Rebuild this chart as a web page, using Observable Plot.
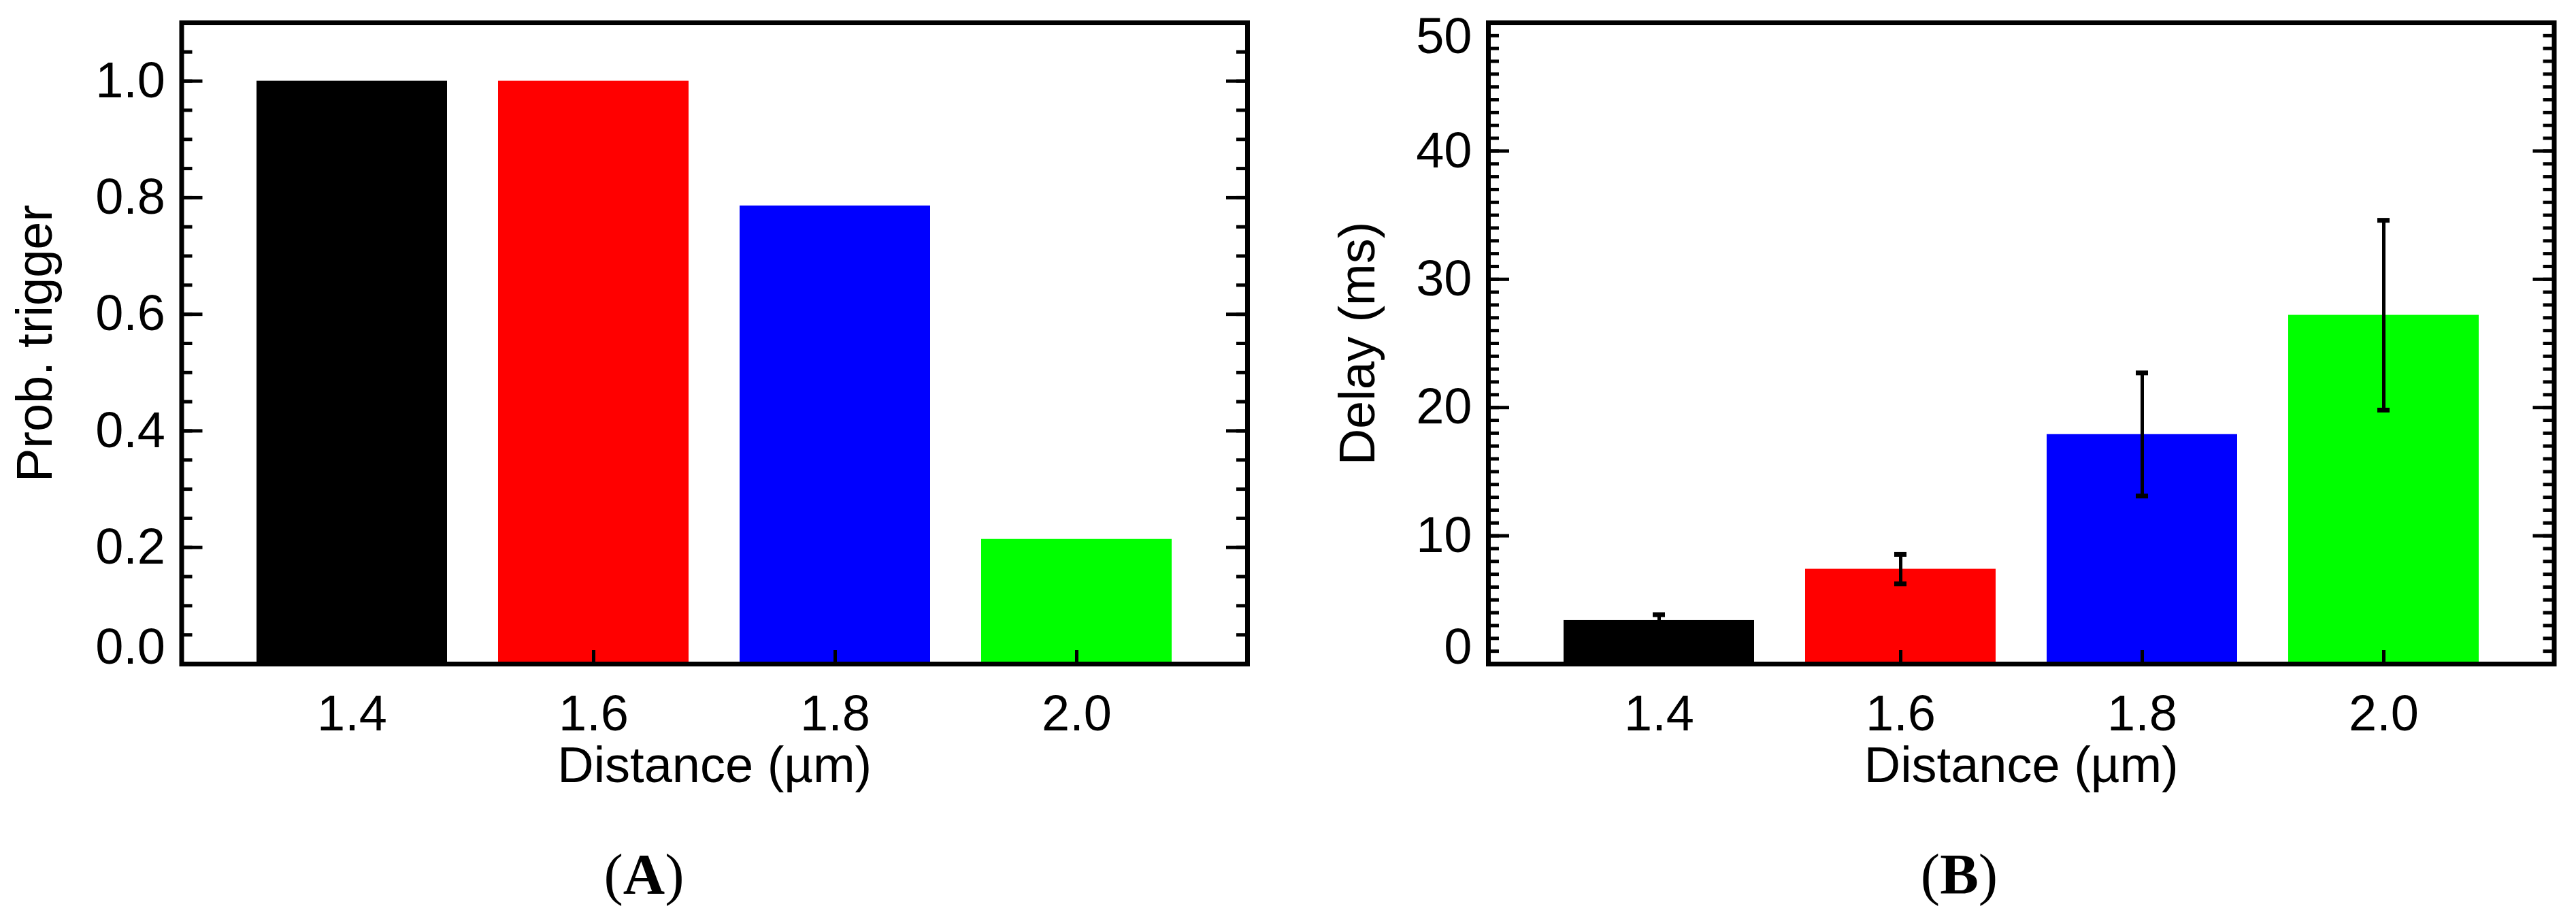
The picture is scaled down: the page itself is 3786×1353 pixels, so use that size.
<!DOCTYPE html>
<html><head><meta charset="utf-8">
<script src="https://cdn.jsdelivr.net/npm/d3@7"></script>
<script src="https://cdn.jsdelivr.net/npm/@observablehq/plot@0.6"></script>
<style>
body{margin:0;background:#fff;}
#page{display:flex;width:3786px;height:1353px;background:#fff;}
.panel{width:1893px;flex:none;}
.caption{font-family:"Liberation Serif","Times New Roman",serif;font-size:85px;line-height:85px;text-align:center;color:#000;box-sizing:border-box;width:1893px;}
</style></head><body>
<div id="page"><div class="panel" id="pa"></div><div class="panel" id="pb"></div></div>
<script>
// ---- data ----
const distances = ["1.4", "1.6", "1.8", "2.0"];
const barColors = ["#000000", "#ff0000", "#0000ff", "#00ff00"];
const probTrigger = [1.0, 1.0, 0.786, 0.214];
const delayMs = [3.4, 7.4, 17.9, 27.2];
const delayErr = [0.45, 1.15, 4.8, 7.4];
const probTicks = [0, 0.2, 0.4, 0.6, 0.8, 1.0];
const delayTicks = [0, 10, 20, 30, 40, 50];
const xLabel = "Distance (µm)";

function panel({values, errs, domain, ticks, minorStep, fmt, ylabel, marginLeft, marginRight, ylabelDx, caption, captionShift}) {
  const W = 1893, H = 1242, MT = 33, MB = 267;
  const plotW = W - marginLeft - marginRight;
  const plotH = H - MT - MB;
  const data = distances.map((d, i) => ({d, v: values[i], c: barColors[i], e: errs ? errs[i] : null}));
  const minors = d3.range(0, Math.round((domain[1] - domain[0]) / minorStep) + 1).map(k => domain[0] + k * minorStep);
  const inner = ticks.filter(t => t !== domain[0] && t !== domain[1]);
  const lowT = ticks.filter(t => t === domain[0]);
  const highT = ticks.filter(t => t === domain[1]);
  const font = {fontSize: 74, tickSize: 0, tickPadding: 24, tickFormat: fmt, label: null};
  const marks = [
    Plot.barY(data, {x: "d", y: "v", fill: "c"}),
  ];
  if (errs) {
    marks.push(
      Plot.ruleX(data, {x: "d", y1: r => r.v - r.e, y2: r => r.v + r.e, stroke: "black", strokeWidth: 5}),
      Plot.tickY(data, {x: "d", y: r => r.v + r.e, insetLeft: 131, insetRight: 131, stroke: "black", strokeWidth: 7}),
      Plot.tickY(data, {x: "d", y: r => r.v - r.e, insetLeft: 131, insetRight: 131, stroke: "black", strokeWidth: 7})
    );
  }
  marks.push(
    // minor / major ticks left and right (inward)
    Plot.tickY(minors, {y: t => t, insetRight: plotW - 16, stroke: "black", strokeWidth: 5}),
    Plot.tickY(minors, {y: t => t, insetLeft: plotW - 16, stroke: "black", strokeWidth: 5}),
    Plot.tickY(ticks, {y: t => t, insetRight: plotW - 31, stroke: "black", strokeWidth: 5}),
    Plot.tickY(ticks, {y: t => t, insetLeft: plotW - 31, stroke: "black", strokeWidth: 5}),
    // x ticks (inward, from bottom)
    Plot.tickX(distances, {x: d => d, insetTop: plotH - 20, stroke: "black", strokeWidth: 5}),
    Plot.axisY(inner, {...font}),
    Plot.axisY(lowT, {...font, dy: -24}),
    Plot.axisY(highT, {...font, dy: 21}),
    Plot.axisX({fontSize: 74, tickSize: 0, tickPadding: 45, label: null}),
    Plot.text([ylabel], {text: d => d, frameAnchor: "left", textAnchor: "middle", lineAnchor: "middle", rotate: -90, dx: ylabelDx, fontSize: 74}),
    Plot.text([xLabel], {text: d => d, frameAnchor: "bottom", textAnchor: "middle", lineAnchor: "middle", dy: 150, fontSize: 74}),
    Plot.frame({stroke: "black", strokeWidth: 7})
  );
  const chart = Plot.plot({
    width: W, height: H,
    marginLeft, marginRight, marginTop: MT, marginBottom: MB,
    x: {type: "band", domain: distances, paddingInner: 0.212, paddingOuter: 0.31, axis: null, label: null},
    y: {domain, axis: null, label: null},
    color: {type: "identity"},
    style: {fontFamily: "'Liberation Sans', Arial, Helvetica, sans-serif", fontSize: "74px", color: "black", background: "white", overflow: "visible"},
    marks
  });
  const wrap = document.createElement("div");
  wrap.appendChild(chart);
  const cap = document.createElement("div");
  cap.className = "caption";
  cap.style.paddingLeft = captionShift + "px";
  cap.innerHTML = "(<b>" + caption + "</b>)";
  wrap.appendChild(cap);
  return wrap;
}

document.getElementById("pa").appendChild(panel({
  values: probTrigger, errs: null, domain: [0, 1.1], ticks: probTicks, minorStep: 0.05,
  fmt: d3.format(".1f"), ylabel: "Prob. trigger", marginLeft: 266.5, marginRight: 60,
  ylabelDx: -214.5, caption: "A", captionShift: 0
}));
document.getElementById("pb").appendChild(panel({
  values: delayMs, errs: delayErr, domain: [0, 50], ticks: delayTicks, minorStep: 1,
  fmt: d3.format("d"), ylabel: "Delay (ms)", marginLeft: 294, marginRight: 32.5,
  ylabelDx: -191, caption: "B", captionShift: 80
}));
</script>
</body></html>
